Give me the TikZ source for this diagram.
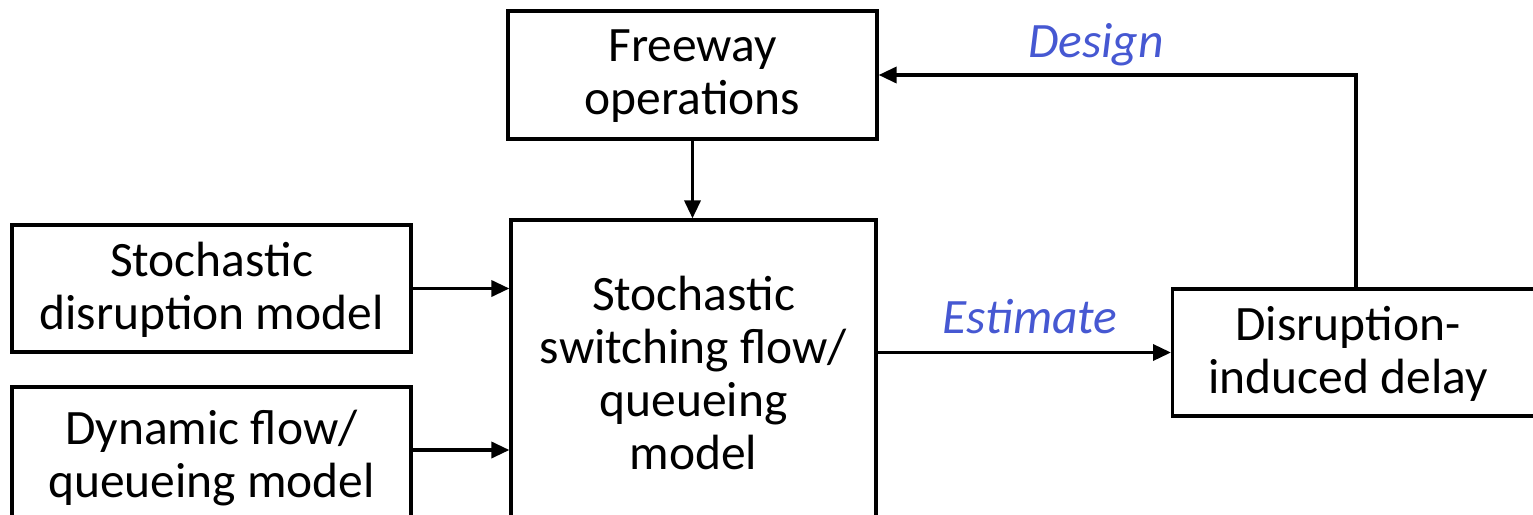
\documentclass[tikz,border=0pt]{standalone}
\usepackage{fontspec}
\setmainfont{Carlito}
\usetikzlibrary{arrows.meta}
\definecolor{lblue}{RGB}{70,88,210}
\begin{document}
\begin{tikzpicture}[x=1pt,y=-1pt,
  box/.style={draw=black, line width=3.2pt, inner sep=0pt, fill=none},
  txt/.style={align=center, font=\fontsize{49.5}{53}\selectfont, inner sep=0pt},
  arr/.style={line width=3.5pt, -{Triangle[length=18pt,width=16pt]}},
  lbl/.style={font=\fontsize{49.5}{53}\selectfont\itshape, text=lblue, inner sep=0pt}]
\useasboundingbox (0,0) rectangle (1533,514);
\clip (0,0) rectangle (1533,514);
% boxes
\node[box, minimum width=369pt, minimum height=128pt] (fw) at (692.5,75) {};
\node[txt] (fwt) at (692.5,76) {Freeway\\operations};
\node[box, minimum width=365pt, minimum height=304pt] (sw) at (693.5,372) {};
\node[txt] (swt) at (693.5,373) {Stochastic\\switching flow/\\queueing\\model};
\node[box, minimum width=399pt, minimum height=127pt] (dis) at (211.5,288.5) {};
\node[txt] (dist) at (211.5,290) {Stochastic\\disruption model};
\node[box, minimum width=399pt, minimum height=140pt] (dyn) at (211.5,457) {};
\node[txt] (dynt) at (211.5,458) {Dynamic flow/\\queueing model};
\node[box, minimum width=420pt, minimum height=127pt, anchor=west] (del) at (1171,352.5) {};
\node[txt] (delt) at (1348,354) {Disruption-\\induced delay};
% helper coordinates
\coordinate (dy) at (0,450);
\coordinate (fb) at (1356,75);
% connectors
\draw[arr] (fw.south) -- (fw.south |- sw.north);
\draw[arr] (dis.east) -- (sw.west |- dis.east);
\draw[arr] (dyn.east |- dy) -- (sw.west |- dy);
\draw[arr] (sw.east |- del.west) -- (del.west);
\draw[arr] (fb |- del.north) -- (fb) -- (fw.east |- fb);
% labels
\node[lbl, anchor=base] (design) at (1096,57) {Design};
\node[lbl, anchor=base] (estimate) at (1030,333) {Estimate};
\end{tikzpicture}
\end{document}
